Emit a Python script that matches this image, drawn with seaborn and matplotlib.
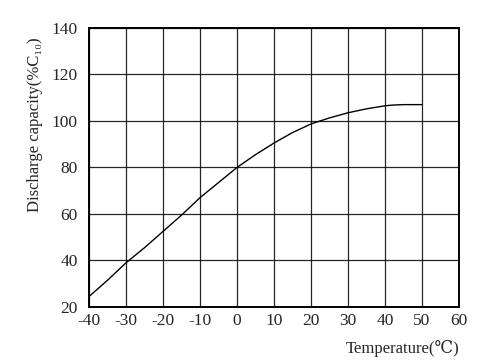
import matplotlib
matplotlib.use("Agg")
import matplotlib.pyplot as plt
import seaborn as sns

sns.set_style("white")
plt.rcParams['font.family'] = ['Liberation Serif', 'DejaVu Serif', 'DejaVu Sans']

temperature = [-40, -35, -30, -25, -20, -15, -10, -5, 0, 5, 10, 15, 20, 25, 30, 35, 40, 42, 45, 50]
capacity = [24.5, 31.5, 39, 45.5, 52.5, 59.5, 67, 73.5, 80, 85.5, 90.5, 95, 98.7, 101.3,
            103.5, 105.2, 106.5, 106.8, 107, 107]

x_ticks = list(range(-40, 61, 10))
y_ticks = list(range(20, 141, 20))

fig = plt.figure(figsize=(4.92, 3.62), dpi=100)
ax = fig.add_axes([0.181, 0.152, 0.752, 0.771])

sns.lineplot(x=temperature, y=capacity, ax=ax, color="black", linewidth=1.0)

ax.set_xlim(-40, 60)
ax.set_ylim(20, 140)
ax.set_xticks(x_ticks)
ax.set_yticks(y_ticks)
ax.set_xticklabels([str(t) for t in x_ticks], fontsize=12.5)
ax.set_yticklabels([str(t) for t in y_ticks], fontsize=12.5)
ax.tick_params(axis="x", length=0, pad=4)
ax.tick_params(axis="y", length=0, pad=8)
ax.grid(True, color="black", linewidth=0.9, alpha=0.85)
for s in ax.spines.values():
    s.set_color("black")
    s.set_linewidth(1.4)

ax.set_ylabel("Discharge capacity(%C\u2081\u2080)", fontsize=12)
ax.yaxis.set_label_coords(-0.125, 0.652)
ax.set_xlabel("Temperature(\u2103)", fontsize=12, loc="right", labelpad=8)

fig.savefig("out.png", dpi=100)
